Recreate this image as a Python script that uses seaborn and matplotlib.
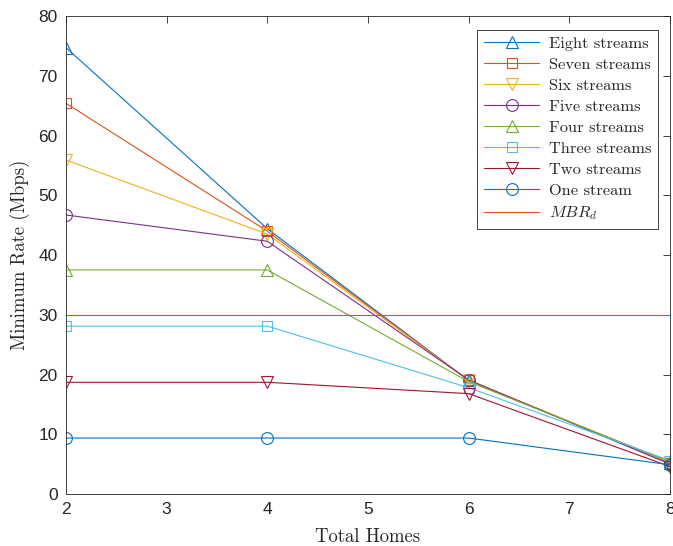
import matplotlib
matplotlib.use("Agg")
import matplotlib.pyplot as plt
import seaborn as sns
import pandas as pd

homes = [2, 4, 6, 8]
eight = [74.7, 44.4, 19.0, 5.2]
seven = [65.4, 44.0, 19.0, 5.2]
six = [55.9, 43.5, 19.0, 5.3]
five = [46.7, 42.3, 19.1, 5.0]
four = [37.5, 37.5, 18.8, 5.4]
three = [28.1, 28.1, 17.8, 5.6]
two = [18.7, 18.7, 16.8, 4.6]
one = [9.37, 9.37, 9.37, 4.9]
mbr_d = 30.0

names = ["Eight streams", "Seven streams", "Six streams", "Five streams",
         "Four streams", "Three streams", "Two streams", "One stream"]
series = [eight, seven, six, five, four, three, two, one]
colors = ["#0072BD", "#D95319", "#EDB120", "#7E2F8E", "#77AC30", "#4DBEEE", "#A2142F", "#0072BD"]
markers = ["^", "s", "v", "o", "^", "s", "v", "o"]
msizes = [9, 7, 9, 8.5, 9, 7, 9, 8.5]

sns.set_style("white")
plt.rcParams["mathtext.fontset"] = "cm"

fig = plt.figure(figsize=(6.73, 5.46), dpi=100)
ax = fig.add_axes([0.098, 0.0952, 0.8975, 0.8755])

for name, vals, c, m, ms in zip(names, series, colors, markers, msizes):
    df = pd.DataFrame({"x": homes, "y": vals})
    sns.lineplot(data=df, x="x", y="y", ax=ax, color=c, marker=m, markersize=ms,
                 markerfacecolor="none", markeredgecolor=c, markeredgewidth=0.8,
                 linewidth=0.8, label=name)

ax.axhline(mbr_d, color="#D95319", linewidth=0.8, label=r"$MBR_d$")

ax.set_xlim(2, 8)
ax.set_ylim(0, 80)
ax.set_xticks([2, 3, 4, 5, 6, 7, 8])
ax.set_yticks([0, 10, 20, 30, 40, 50, 60, 70, 80])
ax.tick_params(direction="in", top=True, right=True, length=5, width=0.6,
               labelsize=12.5, colors="#262626", pad=6)
for lab in ax.get_xticklabels() + ax.get_yticklabels():
    lab.set_fontfamily("Liberation Sans")
for s in ax.spines.values():
    s.set_color("#262626")
    s.set_linewidth(0.6)

ax.set_xlabel("Total Homes", fontfamily=["cmr10", "DejaVu Serif"], fontsize=13.5, labelpad=8)
ax.set_ylabel("Minimum Rate (Mbps)", fontfamily=["cmr10", "DejaVu Serif"], fontsize=13.5, labelpad=6)

leg = ax.legend(loc="upper right", prop={"family": ["cmr10", "DejaVu Serif"], "size": 11.8},
                frameon=True, fancybox=False, edgecolor="#262626", framealpha=1,
                handlelength=3.4, borderpad=0.4, labelspacing=0.4, handletextpad=0.6,
                bbox_to_anchor=(0.994, 0.988))
leg.get_frame().set_linewidth(0.6)

fig.savefig("out.png", dpi=100)
